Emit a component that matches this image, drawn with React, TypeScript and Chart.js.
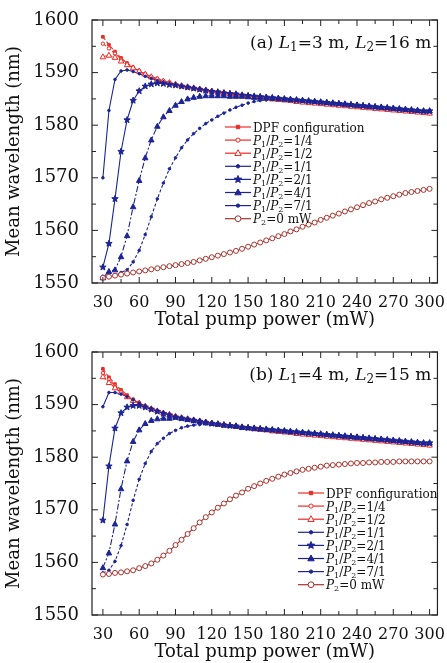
import React, { useEffect, useRef } from "react";
import { Chart, registerables } from "chart.js";
Chart.register(...registerables);

const xs = [30,35,40,45,50,55,60,65,70,75,80,85,90,95,100,105,110,115,120,125,130,135,140,145,150,155,160,165,170,175,180,185,190,195,200,205,210,215,220,225,230,235,240,245,250,255,260,265,270,275,280,285,290,295,300];
const xTicks = [30,60,90,120,150,180,210,240,270,300];
const yTicks = [1550,1560,1570,1580,1590,1600];

// common red tail (x = 60..300)
const redTail = [1590.3,1589.7,1589.2,1588.8,1588.4,1588.1,1587.8,1587.5,1587.3,1587.1,1586.9,1586.7,1586.5,1586.3,1586.2,1586.0,1585.9,1585.7,1585.6,1585.4,1585.3,1585.2,1585.0,1584.9,1584.8,1584.7,1584.5,1584.4,1584.3,1584.2,1584.1,1584.0,1583.9,1583.8,1583.7,1583.6,1583.5,1583.4,1583.3,1583.2,1583.1,1583.0,1582.9,1582.8,1582.7,1582.6,1582.5,1582.4,1582.3];
// common blue tail (x = 90..300)
const blueTail = [1587.6,1587.4,1587.2,1587.0,1586.8,1586.6,1586.4,1586.3,1586.1,1586.0,1585.9,1585.7,1585.6,1585.5,1585.4,1585.3,1585.2,1585.1,1585.0,1584.9,1584.8,1584.7,1584.6,1584.5,1584.4,1584.3,1584.2,1584.1,1584.0,1583.9,1583.8,1583.7,1583.6,1583.5,1583.4,1583.3,1583.2,1583.1,1583.0,1582.9,1582.8,1582.7,1582.7];

// panel (a)
const aDPF = [1596.8,1595.3,1594.0,1592.8,1591.8,1591.0].concat(redTail);
const a14 = [1595.5,1594.6,1593.6,1592.6,1591.7,1591.0].concat(redTail);
const a12 = [1593.0,1593.3,1592.9,1592.2,1591.5,1590.9].concat(redTail);
const a11 = [1570.0,1582.8,1588.7,1590.3,1590.5,1590.2,1589.8,1589.3,1588.9,1588.5,1588.1,1587.8].concat(blueTail);
const a21 = [1553.0,1557.5,1566.0,1575.0,1581.0,1584.7,1586.5,1587.4,1587.8,1588.0,1587.9,1587.7].concat(blueTail);
const a41 = [1551.0,1552.2,1552.5,1555.0,1559.0,1564.5,1569.5,1573.8,1577.2,1579.8,1581.6,1582.8,1583.8,1584.5,1585.0,1585.3,1585.5,1585.6,1585.6,1585.6,1585.6,1585.5,1585.5,1585.5,1585.4,1585.3].concat(blueTail.slice(14));
const a71 = [1551.2,1551.3,1551.5,1552.0,1552.5,1554.0,1556.2,1559.2,1562.6,1566.0,1569.0,1571.7,1573.8,1575.7,1577.2,1578.4,1579.4,1580.3,1581.0,1581.7,1582.3,1582.9,1583.4,1583.8,1584.2,1584.5,1584.7,1584.8,1584.9,1584.9,1584.8].concat(blueTail.slice(19));
const aP0 = [1551.0,1551.2,1551.4,1551.6,1551.8,1552.0,1552.2,1552.4,1552.6,1552.8,1553.0,1553.2,1553.4,1553.6,1553.8,1554.0,1554.3,1554.6,1554.9,1555.2,1555.5,1555.8,1556.1,1556.5,1556.9,1557.3,1557.7,1558.1,1558.5,1558.9,1559.3,1559.8,1560.2,1560.7,1561.1,1561.5,1562.0,1562.4,1562.8,1563.2,1563.6,1564.0,1564.4,1564.8,1565.2,1565.5,1565.9,1566.2,1566.5,1566.8,1567.1,1567.3,1567.5,1567.7,1567.9];

// panel (b)
const bDPF = [1596.8,1595.2,1593.9,1592.8,1591.8,1591.0].concat(redTail);
const b14 = [1596.0,1594.8,1593.6,1592.5,1591.6,1590.9].concat(redTail);
const b12 = [1595.3,1594.2,1593.2,1592.3,1591.5,1590.8].concat(redTail);
const b11 = [1589.6,1592.3,1592.3,1592.0,1591.5,1590.9,1590.3,1589.7,1589.2,1588.8,1588.4,1588.0].concat(blueTail);
const b21 = [1568.0,1578.3,1585.5,1588.4,1589.5,1589.8,1589.8,1589.5,1589.1,1588.7,1588.3,1588.0].concat(blueTail);
const b41 = [1559.0,1561.8,1567.3,1574.0,1579.3,1583.0,1585.2,1586.4,1587.0,1587.3,1587.4,1587.4].concat(blueTail);
const b71 = [1558.0,1558.5,1560.2,1563.2,1567.2,1571.8,1575.8,1578.8,1581.1,1582.6,1583.6,1584.5,1585.1,1585.6,1585.9,1586.1,1586.2,1586.3,1586.3,1586.2].concat(blueTail.slice(8));
const bP0 = [1557.7,1557.8,1558.0,1558.1,1558.3,1558.5,1558.9,1559.3,1559.8,1560.5,1561.3,1562.2,1563.3,1564.3,1565.4,1566.5,1567.6,1568.6,1569.5,1570.4,1571.2,1572.0,1572.7,1573.3,1574.0,1574.5,1575.0,1575.5,1575.9,1576.3,1576.7,1577.0,1577.3,1577.6,1577.8,1578.0,1578.2,1578.4,1578.5,1578.6,1578.7,1578.8,1578.9,1578.9,1579.0,1579.0,1579.1,1579.1,1579.1,1579.2,1579.2,1579.2,1579.2,1579.2,1579.2];

const RED = "#ee2a24";
const BLUE = "#1c2496";
const DRED = "#a8322c";
const FONT = "'DejaVu Serif', serif";

type Seg = { t: string; i?: boolean; s?: boolean };
const ratio = (r: string): Seg[] => [{ t: "P", i: true }, { t: "1", s: true }, { t: "/" }, { t: "P", i: true }, { t: "2", s: true }, { t: "=" + r }];
const legendLabels: Seg[][] = [
  [{ t: "DPF configuration" }],
  ratio("1/4"), ratio("1/2"), ratio("1/1"), ratio("2/1"), ratio("4/1"), ratio("7/1"),
  [{ t: "P", i: true }, { t: "2", s: true }, { t: "=0 mW" }],
];

function drawSegs(ctx: CanvasRenderingContext2D, segs: Seg[], x: number, y: number, size: number, align: "left" | "right") {
  const setF = (sg: Seg) => { ctx.font = `${sg.i ? "italic " : ""}${sg.s ? Math.round(size * 0.68) : size}px ${FONT}`; };
  let total = 0;
  segs.forEach((sg) => { setF(sg); total += ctx.measureText(sg.t).width; });
  let cx = align === "right" ? x - total : x;
  ctx.textAlign = "left";
  ctx.textBaseline = "alphabetic";
  segs.forEach((sg) => {
    setF(sg);
    ctx.fillText(sg.t, cx, sg.s ? y + size * 0.18 : y);
    cx += ctx.measureText(sg.t).width;
  });
}

function marker(ctx: CanvasRenderingContext2D, ps: string, r: number, x: number, y: number, color: string, fill: boolean) {
  ctx.save();
  ctx.setLineDash([]);
  ctx.strokeStyle = color;
  ctx.fillStyle = fill ? color : "#fff";
  ctx.lineWidth = 1;
  ctx.beginPath();
  if (ps === "rect") ctx.rect(x - r, y - r, 2 * r, 2 * r);
  else if (ps === "triangle") { ctx.moveTo(x, y - r * 1.2); ctx.lineTo(x + r * 1.1, y + r * 0.8); ctx.lineTo(x - r * 1.1, y + r * 0.8); ctx.closePath(); }
  else if (ps === "star") {
    for (let k = 0; k < 10; k++) {
      const ang = -Math.PI / 2 + (k * Math.PI) / 5;
      const rr = k % 2 === 0 ? r * 1.3 : r * 0.55;
      const px = x + rr * Math.cos(ang), py = y + rr * Math.sin(ang);
      k === 0 ? ctx.moveTo(px, py) : ctx.lineTo(px, py);
    }
    ctx.closePath();
  } else ctx.arc(x, y, r, 0, Math.PI * 2);
  ctx.fill();
  ctx.stroke();
  ctx.restore();
}

type DS = { d: number[]; c: string; ps: string; r: number; fill: boolean; dash: number[] };

function makeSets(arr: number[][]): DS[] {
  return [
    { d: arr[0], c: RED, ps: "rect", r: 1.3, fill: true, dash: [4, 2] },
    { d: arr[1], c: RED, ps: "circle", r: 1.7, fill: false, dash: [4, 2] },
    { d: arr[2], c: RED, ps: "triangle", r: 2.5, fill: false, dash: [4, 2] },
    { d: arr[3], c: BLUE, ps: "circle", r: 1.3, fill: true, dash: [] },
    { d: arr[4], c: BLUE, ps: "star", r: 2.6, fill: true, dash: [] },
    { d: arr[5], c: BLUE, ps: "triangle", r: 2.5, fill: true, dash: [6, 2, 2, 2] },
    { d: arr[6], c: BLUE, ps: "circle", r: 1.3, fill: true, dash: [3, 2] },
    { d: arr[7], c: DRED, ps: "circle", r: 2.5, fill: false, dash: [] },
  ];
}

function Panel({ data, title, legX, legY }: { data: number[][]; title: Seg[]; legX: number; legY: number }) {
  const ref = useRef<HTMLCanvasElement>(null);
  useEffect(() => {
    const sets = makeSets(data);
    const deco = {
      id: "deco",
      afterDatasetsDraw(chart: any) {
        const ctx = chart.ctx as CanvasRenderingContext2D;
        const a = chart.chartArea;
        const xs_ = chart.scales.x, ys_ = chart.scales.y;
        ctx.save();
        sets.forEach((s) => {
          s.d.forEach((v, i) => marker(ctx, s.ps, s.r, xs_.getPixelForValue(xs[i]), ys_.getPixelForValue(v), s.c, s.fill));
        });
        ctx.strokeStyle = "#222";
        ctx.lineWidth = 1.2;
        ctx.setLineDash([]);
        ctx.strokeRect(a.left, a.top, a.right - a.left, a.bottom - a.top);
        ctx.lineWidth = 1;
        for (let v = 1550; v <= 1600; v += 5) {
          const y = ys_.getPixelForValue(v);
          const L = v % 10 === 0 ? 6 : 4;
          ctx.beginPath(); ctx.moveTo(a.left, y); ctx.lineTo(a.left + L, y);
          ctx.moveTo(a.right, y); ctx.lineTo(a.right - L, y); ctx.stroke();
        }
        for (let v = 30; v <= 300; v += 15) {
          const x = xs_.getPixelForValue(v);
          const L = v % 30 === 0 ? 6 : 4;
          ctx.beginPath(); ctx.moveTo(x, a.bottom); ctx.lineTo(x, a.bottom - L);
          ctx.moveTo(x, a.top); ctx.lineTo(x, a.top + L); ctx.stroke();
        }
        ctx.fillStyle = "#111";
        drawSegs(ctx, title, a.right - 6, a.top + 28, 17, "right");
        sets.forEach((s, i) => {
          const y = legY + i * 13.1;
          ctx.strokeStyle = s.c;
          ctx.lineWidth = 1.2;
          ctx.setLineDash([]);
          ctx.beginPath(); ctx.moveTo(legX, y); ctx.lineTo(legX + 26, y); ctx.stroke();
          marker(ctx, s.ps, s.r + 0.4, legX + 13, y, s.c, s.fill);
          ctx.fillStyle = "#111";
          drawSegs(ctx, legendLabels[i], legX + 28, y + 4.5, 12, "left");
        });
        ctx.restore();
      },
    };
    const chart = new Chart(ref.current!, {
      type: "line",
      data: {
        datasets: sets.map((s) => ({
          data: s.d.map((v, i) => ({ x: xs[i], y: v })),
          borderColor: s.c,
          backgroundColor: s.c,
          pointRadius: 0,
          borderWidth: 1.1,
          borderDash: s.dash,
          tension: 0,
        })),
      },
      plugins: [deco],
      options: {
        animation: false,
        responsive: false,
        devicePixelRatio: 1,
        layout: { padding: { top: 20, right: 6, left: 0, bottom: 0 } },
        plugins: { legend: { display: false }, tooltip: { enabled: false } },
        scales: {
          x: {
            type: "linear", min: 21, max: 306.5,
            grid: { display: false },
            border: { display: false },
            afterBuildTicks: (s: any) => { s.ticks = xTicks.map((v) => ({ value: v })); },
            afterFit: (s: any) => { s.height = 48; },
            ticks: { color: "#111", font: { family: FONT, size: 16 }, padding: 2, maxRotation: 0, autoSkip: false, callback: (v: any) => String(v) },
            title: { display: true, text: "Total pump power (mW)", color: "#111", font: { family: FONT, size: 18 }, padding: { top: -1, bottom: 0 } },
          },
          y: {
            min: 1550, max: 1600,
            grid: { display: false },
            border: { display: false },
            afterBuildTicks: (s: any) => { s.ticks = yTicks.map((v) => ({ value: v })); },
            afterFit: (s: any) => { s.width = 92; },
            ticks: { color: "#111", font: { family: FONT, size: 18 }, padding: 5, callback: (v: any) => String(v) },
            title: { display: true, text: "Mean wavelength (nm)", color: "#111", font: { family: FONT, size: 18 }, padding: { bottom: 0 } },
          },
        },
      } as any,
    });
    return () => chart.destroy();
  }, []);
  return <canvas ref={ref} width={447} height={331} style={{ display: "block", width: 447, height: 331 }} />;
}

export default function App() {
  const tA: Seg[] = [{ t: "(a) " }, { t: "L", i: true }, { t: "1", s: true }, { t: "=3 m, " }, { t: "L", i: true }, { t: "2", s: true }, { t: "=16 m" }];
  const tB: Seg[] = [{ t: "(b) " }, { t: "L", i: true }, { t: "1", s: true }, { t: "=4 m, " }, { t: "L", i: true }, { t: "2", s: true }, { t: "=15 m" }];
  return (
    <div style={{ position: "fixed", left: 0, top: 0, width: 447, height: 663, background: "#fff" }}>
      <Panel data={[aDPF, a14, a12, a11, a21, a41, a71, aP0]} title={tA} legX={225} legY={127} />
      <div style={{ height: 1 }} />
      <Panel data={[bDPF, b14, b12, b11, b21, b41, b71, bP0]} title={tB} legX={298} legY={161} />
    </div>
  );
}
